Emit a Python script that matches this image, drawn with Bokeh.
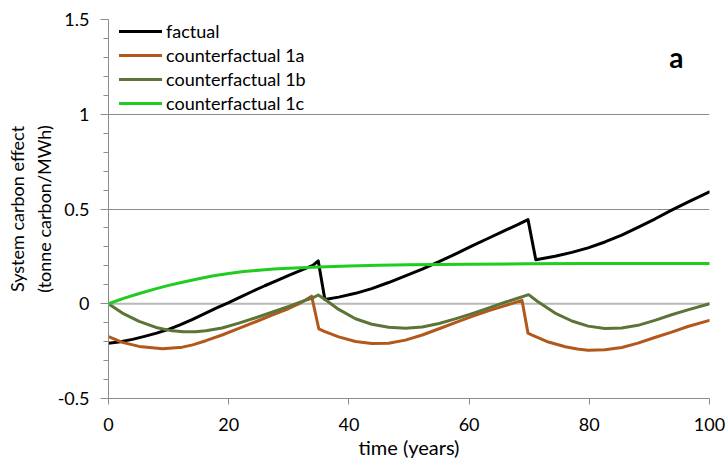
from bokeh.plotting import figure
from bokeh.models import (Legend, LegendItem, FixedTicker, Span, Label,
                          CustomJSTickFormatter)
from bokeh.embed import file_html
from bokeh.resources import INLINE

# time (years) and system carbon effect (tonne carbon/MWh) for each scenario
factual_t = [0, 2, 4, 6, 8, 10, 12, 14, 16, 18, 20, 22, 24, 26, 28, 30, 32, 34, 34.9,
             36.0, 38.3, 41.1, 43.8, 46.6, 49.4, 52.2, 55.0, 57.7, 60.5, 63.3, 66.0,
             68.0, 69.8, 71.1, 72.5, 74.3, 77.1, 79.8, 82.6, 85.4, 88.1, 90.9, 93.7,
             96.4, 100]
factual_v = [-0.208, -0.2, -0.188, -0.172, -0.155, -0.135, -0.11, -0.082, -0.052,
             -0.022, 0.006, 0.036, 0.066, 0.095, 0.122, 0.15, 0.176, 0.202, 0.226,
             0.022, 0.035, 0.055, 0.08, 0.112, 0.147, 0.183, 0.222, 0.262, 0.305,
             0.347, 0.387, 0.416, 0.444, 0.232, 0.24, 0.251, 0.271, 0.295, 0.326,
             0.362, 0.403, 0.447, 0.494, 0.536, 0.59]

cf1a_t = [0, 2.3, 5.1, 9.0, 12.3, 14, 16.2, 18.9, 21.7, 24.5, 27.2, 30, 32, 33.8,
          35.0, 35.8, 38.3, 41.1, 43.8, 46.6, 49.4, 52.2, 55.0, 57.7, 60.5, 63.3,
          66.0, 68.8, 69.8, 70.4, 73.2, 76.0, 78.0, 79.8, 82.6, 85.4, 88.1, 90.9,
          93.7, 96.4, 100]
cf1a_v = [-0.173, -0.204, -0.225, -0.238, -0.229, -0.217, -0.195, -0.165, -0.13,
          -0.095, -0.06, -0.025, 0.005, 0.04, -0.133, -0.144, -0.175, -0.199, -0.21,
          -0.208, -0.192, -0.165, -0.132, -0.1, -0.067, -0.036, -0.01, 0.018,
          -0.155, -0.164, -0.202, -0.227, -0.239, -0.245, -0.243, -0.231, -0.208,
          -0.178, -0.15, -0.12, -0.088]

cf1b_t = [0, 2.3, 5.1, 7.9, 10.6, 12.5, 14.5, 16.2, 18.9, 21.7, 24.5, 27.2, 30, 32,
          33.9, 34.9, 36.1, 38.3, 41.1, 43.8, 46.6, 49.4, 52.2, 55.0, 57.7, 60.5,
          63.3, 66.0, 67.7, 69.9, 71.4, 74.3, 77.1, 79.8, 82.6, 85.4, 88.1, 90.9,
          93.7, 96.4, 100]
cf1b_v = [0.0, -0.049, -0.093, -0.125, -0.143, -0.148, -0.148, -0.142, -0.128,
          -0.102, -0.074, -0.045, -0.014, 0.01, 0.03, 0.046, 0.021, -0.03, -0.079,
          -0.108, -0.124, -0.129, -0.123, -0.104, -0.08, -0.052, -0.022, 0.008,
          0.025, 0.048, 0.012, -0.049, -0.091, -0.118, -0.131, -0.128, -0.114,
          -0.088, -0.058, -0.032, 0.0]

cf1c_t = [0, 2.5, 5, 7.5, 10, 12.5, 15, 17.5, 20, 22.5, 25, 27.5, 30, 35, 40, 45,
          50, 60, 70, 80, 90, 100]
cf1c_v = [0.0, 0.028, 0.053, 0.076, 0.097, 0.115, 0.132, 0.148, 0.16, 0.17, 0.177,
          0.183, 0.187, 0.194, 0.199, 0.203, 0.206, 0.209, 0.211, 0.212, 0.212,
          0.212]

series_names = ["factual", "counterfactual 1a", "counterfactual 1b", "counterfactual 1c"]
series_colors = ["#000000", "#B3581C", "#5C7438", "#1FCC1F"]

x_ticks = [0, 20, 40, 60, 80, 100]
y_ticks = [-0.5, 0, 0.5, 1, 1.5]

FONT = "Lato"

p = figure(width=726, height=461, output_backend="svg", toolbar_location=None,
           x_range=(0, 100), y_range=(-0.5, 1.5),
           min_border_left=108, min_border_right=17, min_border_top=19,
           min_border_bottom=62)
p.outline_line_color = None
p.background_fill_color = "white"
p.border_fill_color = "white"

# grid: thin horizontal lines at major ticks above zero, thicker zero line
p.xgrid.visible = False
p.ygrid.ticker = FixedTicker(ticks=[0.5, 1, 1.5])
p.ygrid.grid_line_color = "#8C8C8C"
p.ygrid.grid_line_width = 1
p.add_layout(Span(location=0, dimension="width", line_color="#B9B9B9",
                  line_width=2, level="underlay"))

# axes
p.xaxis.ticker = FixedTicker(ticks=x_ticks)
p.yaxis.ticker = FixedTicker(ticks=y_ticks,
                             minor_ticks=[round(-0.5 + 0.1 * i, 1) for i in range(21)])
p.yaxis.formatter = CustomJSTickFormatter(code="return String(Math.round(tick * 10) / 10);")
for ax in (p.xaxis[0], p.yaxis[0]):
    ax.axis_line_color = "#8C8C8C"
    ax.major_tick_line_color = "#8C8C8C"
    ax.minor_tick_line_color = "#8C8C8C"
    ax.major_tick_in = 0
    ax.minor_tick_in = 0
    ax.major_label_text_font = FONT
    ax.major_label_text_font_size = "18px"
    ax.major_label_text_color = "#000000"
    ax.axis_label_text_font = FONT
    ax.axis_label_text_font_style = "normal"
    ax.axis_label_text_color = "#000000"

p.xaxis.major_tick_out = 6
p.xaxis.minor_tick_line_color = None
p.xaxis.major_label_standoff = 13
p.xaxis.axis_label = "time (years)"
p.xaxis.axis_label_text_font_size = "20px"
p.xaxis.axis_label_standoff = 1

p.yaxis.major_tick_out = 8
p.yaxis.minor_tick_out = 5
p.yaxis.major_label_standoff = 11
p.yaxis.axis_label = "System carbon effect\n(tonne carbon/MWh)"
p.yaxis.axis_label_text_font_size = "18px"
p.yaxis.axis_label_standoff = 0

# scenario lines
renderers = []
for t, v, c in [(factual_t, factual_v, series_colors[0]),
                (cf1a_t, cf1a_v, series_colors[1]),
                (cf1b_t, cf1b_v, series_colors[2]),
                (cf1c_t, cf1c_v, series_colors[3])]:
    r = p.line(t, v, line_color=c, line_width=3, line_join="round", line_cap="round")
    renderers.append(r)

legend = Legend(items=[LegendItem(label=n, renderers=[r])
                       for n, r in zip(series_names, renderers)],
                location=(11, 284), margin=0, padding=2, spacing=2,
                glyph_width=43, glyph_height=22, label_height=22,
                label_standoff=4, label_text_font=FONT,
                label_text_font_size="18px", label_text_color="#000000",
                border_line_color=None, background_fill_alpha=0)
p.add_layout(legend)

p.add_layout(Label(x=94.5, y=1.30, text="a", text_font=FONT, text_font_size="28px",
                   text_font_style="bold", text_align="center",
                   text_baseline="middle", text_color="#000000"))

open("out.html", "w").write(file_html(p, INLINE))
